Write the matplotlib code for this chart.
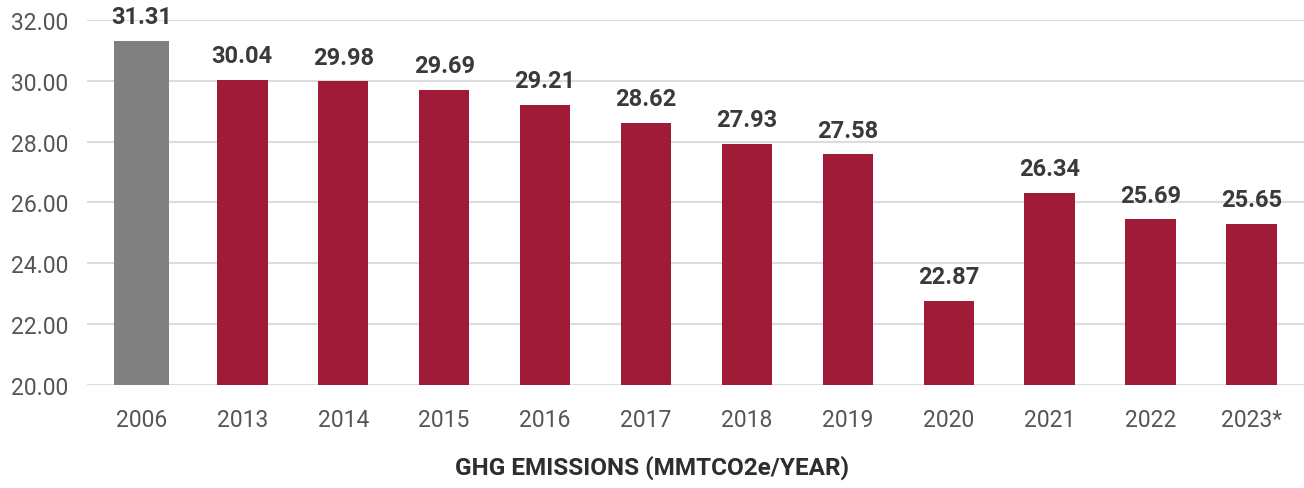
import matplotlib as mpl
import matplotlib.pyplot as plt

mpl.rcParams['font.family'] = ['Roboto', 'DejaVu Sans']

years = ["2006", "2013", "2014", "2015", "2016", "2017",
         "2018", "2019", "2020", "2021", "2022", "2023*"]
# printed labels
values = [31.31, 30.04, 29.98, 29.69, 29.21, 28.62,
          27.93, 27.58, 22.87, 26.34, 25.69, 25.65]
# bar tops as drawn in the original (a few differ from the labels)
bar_tops = [31.31, 30.04, 29.98, 29.69, 29.21, 28.62,
            27.93, 27.58, 22.75, 26.32, 25.44, 25.30]
yticks = [20, 22, 24, 26, 28, 30, 32]

red = "#a01b37"
grey = "#808080"

fig = plt.figure(figsize=(13.04, 4.89), dpi=100)
ax = fig.add_axes([0.067, 0.211, 0.933, 0.746])

x = list(range(len(years)))
colors = [grey] + [red] * (len(years) - 1)
widths = [0.55] + [0.5] * (len(years) - 1)
ax.bar(x, [t - 20 for t in bar_tops], bottom=20, width=widths,
       color=colors, zorder=3)

for xi, top, v in zip(x, bar_tops, values):
    ax.text(xi, top + 0.42, "%.2f" % v, ha="center", va="bottom",
            fontsize=17, fontweight="bold", color="#3a3a3a", clip_on=False)

ax.set_ylim(20, 32)
ax.set_xlim(-0.535, 11.52)
ax.set_yticks(yticks)
ax.set_yticklabels(["%.2f" % t for t in yticks])
ax.set_xticks(x)
ax.set_xticklabels(years)
ax.tick_params(axis="both", length=0, labelsize=16.5, colors="#555555")
ax.tick_params(axis="y", pad=14)
ax.tick_params(axis="x", pad=17)
ax.grid(axis="y", color="#dcdcdc", linewidth=1.5, zorder=0)
for s in ax.spines.values():
    s.set_visible(False)

fig.text(0.50, 0.043, "GHG EMISSIONS (MMTCO2e/YEAR)", ha="center", va="center",
         fontsize=17.5, fontweight="bold", color="#2e2e2e")

fig.savefig("out.png", dpi=100)
